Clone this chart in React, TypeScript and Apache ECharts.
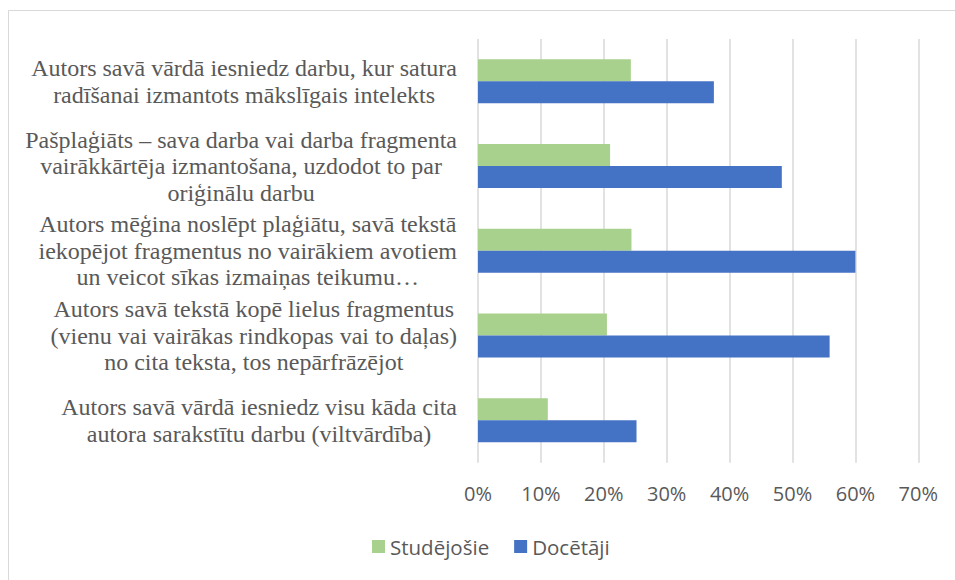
import React, { useEffect, useRef } from "react";
import * as echarts from "echarts";

const categories: string[] = [
  "Autors savā vārdā iesniedz darbu, kur satura\nradīšanai izmantots mākslīgais intelekts",
  "Pašplaģiāts – sava darba vai darba fragmenta\nvairākkārtēja izmantošana, uzdodot to par\noriģinālu darbu",
  "Autors mēģina noslēpt plaģiātu, savā tekstā\niekopējot fragmentus no vairākiem avotiem\nun veicot sīkas izmaiņas teikumu…",
  "Autors savā tekstā kopē lielus fragmentus\n(vienu vai vairākas rindkopas vai to daļas)\nno cita teksta, tos nepārfrāzējot",
  "Autors savā vārdā iesniedz visu kāda cita\nautora sarakstītu darbu (viltvārdība)",
];
const studejosie: number[] = [0.243, 0.21, 0.244, 0.205, 0.111];
const docetaji: number[] = [0.375, 0.483, 0.6, 0.559, 0.252];
const seriesNames: string[] = ["Studējošie", "Docētāji"];

export default function App() {
  const ref = useRef<HTMLDivElement>(null);
  useEffect(() => {
    if (!ref.current) return;
    const chart = echarts.init(ref.current, null, { renderer: "svg" });
    chart.setOption({
      animation: false,
      backgroundColor: "#ffffff",
      graphic: [
        {
          type: "rect",
          shape: { x: 8.5, y: 10.5, width: 1200, height: 1200 },
          style: { fill: "none", stroke: "#d9d9d9", lineWidth: 1 },
          silent: true,
        },
      ],
      grid: { left: 478, right: 36.7, top: 39, bottom: 117.3, containLabel: false },
      legend: {
        left: 372,
        top: 536,
        padding: 0,
        itemWidth: 13,
        itemHeight: 13,
        itemGap: 25,
        icon: "rect",
        textStyle: { fontFamily: "Open Sans", fontSize: 20.5, color: "#595959" },
        data: seriesNames,
      },
      xAxis: {
        type: "value",
        min: 0,
        max: 0.7,
        interval: 0.1,
        axisLine: { show: false },
        axisTick: { show: false },
        splitLine: { show: true, lineStyle: { color: "#d9d9d9", width: 1.5 } },
        axisLabel: {
          margin: 21,
          fontFamily: "Open Sans",
          fontSize: 20,
          color: "#595959",
          formatter: (v: number) => `${Math.round(v * 100)}%`,
        },
      },
      yAxis: {
        type: "category",
        inverse: true,
        data: categories,
        axisLine: { show: false },
        axisTick: { show: false },
        splitLine: { show: false },
        axisLabel: {
          margin: 21,
          formatter: (v: string) => v.split("\n").map((l) => `{c|${l}}`).join("\n"),
          rich: {
            c: {
              align: "center",
              fontFamily: "Liberation Serif, Times New Roman, serif",
              fontSize: 24,
              lineHeight: 26.5,
              color: "#595959",
            },
          },
        },
      },
      series: [
        {
          name: seriesNames[0],
          type: "bar",
          data: studejosie,
          barWidth: 22,
          barGap: "0%",
          itemStyle: { color: "#A9D18E" },
        },
        {
          name: seriesNames[1],
          type: "bar",
          data: docetaji,
          barWidth: 22,
          barGap: "0%",
          itemStyle: { color: "#4472C4" },
        },
      ],
    });
    return () => chart.dispose();
  }, []);
  return (
    <div
      ref={ref}
      style={{ position: "fixed", left: 0, top: 0, width: 955, height: 580 }}
    />
  );
}
